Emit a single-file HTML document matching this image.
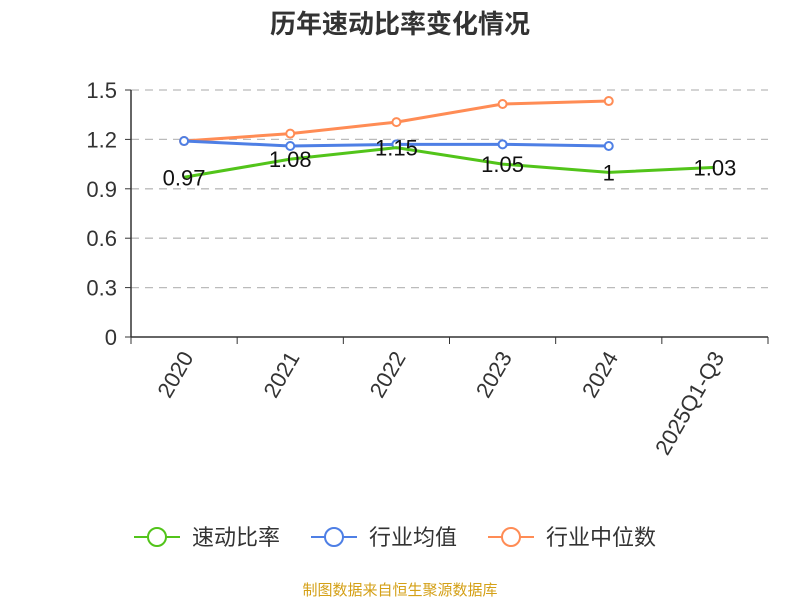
<!DOCTYPE html>
<html><head><meta charset="utf-8"><style>
body{margin:0;background:#fff;font-family:"Liberation Sans","Noto Sans CJK SC",sans-serif}
svg text{font-family:"Liberation Sans","Noto Sans CJK SC",sans-serif}
</style></head><body>
<svg id="c" width="800" height="600">
<text x="400" y="33" text-anchor="middle" font-size="26" font-weight="bold" fill="#333">历年速动比率变化情况</text>
<g id="grid"></g><g id="axes"></g><g id="series"></g>
<g>
<g><line x1="134" y1="537" x2="180" y2="537" stroke="#52c41a" stroke-width="2"/><circle cx="157" cy="537" r="9" fill="#fff" stroke="#52c41a" stroke-width="2"/><text x="192" y="545" font-size="22" fill="#333">速动比率</text></g>
<g><line x1="311" y1="537" x2="357" y2="537" stroke="#4e7fe5" stroke-width="2"/><circle cx="334" cy="537" r="9" fill="#fff" stroke="#4e7fe5" stroke-width="2"/><text x="369" y="545" font-size="22" fill="#333">行业均值</text></g>
<g><line x1="488" y1="537" x2="534" y2="537" stroke="#ff8c55" stroke-width="2"/><circle cx="511" cy="537" r="9" fill="#fff" stroke="#ff8c55" stroke-width="2"/><text x="546" y="545" font-size="22" fill="#333">行业中位数</text></g>
</g>
<text x="400" y="595" text-anchor="middle" font-size="15" fill="#d4a017">制图数据来自恒生聚源数据库</text>
</svg>
<script>
const categories=["2020","2021","2022","2023","2024","2025Q1-Q3"];
const quickRatio=[0.97,1.08,1.15,1.05,1.0,1.03];
const quickLabels=["0.97","1.08","1.15","1.05","1","1.03"];
const industryMean=[1.19,1.16,1.17,1.17,1.16];
const industryMedian=[1.19,1.235,1.305,1.415,1.433];
const yTicks=[0,0.3,0.6,0.9,1.2,1.5];
const NS="http://www.w3.org/2000/svg";
const X0=131,X1=768,Y0=337,Y1=90,band=(X1-X0)/categories.length;
const xs=i=>X0+band*(i+0.5);
const ys=v=>Y0-(v/1.5)*(Y0-Y1);
function mk(t,a,p){const e=document.createElementNS(NS,t);for(const k in a)e.setAttribute(k,a[k]);p.appendChild(e);return e;}
const grid=document.getElementById('grid'),axes=document.getElementById('axes'),ser=document.getElementById('series');
yTicks.forEach(v=>{
 if(v>0){const l=mk('line',{x1:X0,x2:X1,y1:ys(v),y2:ys(v),stroke:'#bbb','stroke-width':1.3,'stroke-dasharray':'8,6'},grid);
 
 }
 const t=mk('text',{x:X0-14,y:ys(v)+8,'text-anchor':'end','font-size':'22',fill:'#333'},axes);t.textContent=v===0?'0':v.toFixed(1);
 
 
 mk('line',{x1:X0-6,x2:X0,y1:ys(v),y2:ys(v),stroke:'#333'},axes);
});
mk('line',{x1:X0,x2:X0,y1:Y1,y2:Y0,stroke:'#333','stroke-width':1.5},axes);
mk('line',{x1:X0,x2:X1,y1:Y0,y2:Y0,stroke:'#333','stroke-width':1.5},axes);
for(let i=0;i<=categories.length;i++)mk('line',{x1:X0+band*i,x2:X0+band*i,y1:Y0,y2:Y0+7,stroke:'#333'},axes);
categories.forEach((c,i)=>{
 const t=mk('text',{x:xs(i)+10,y:Y0+20,'text-anchor':'end','font-size':'22',fill:'#333',transform:`rotate(-60 ${xs(i)+10} ${Y0+20})`},axes);t.textContent=c;
 
 
});
function line(data,color,name,dots){
 const g=mk('g',{},ser);
 
 
 mk('polyline',{points:data.map((v,i)=>xs(i)+','+ys(v)).join(' '),fill:'none',stroke:color,'stroke-width':3},g);
 if(dots)data.forEach((v,i)=>{const c=mk('circle',{cx:xs(i),cy:ys(v),r:4,fill:'#fff',stroke:color,'stroke-width':2},g);
 
 });
 return g;
}
line(industryMedian,'#ff8c55','industry-median-line',true);
line(industryMean,'#4e7fe5','industry-mean-line',true);
const g=line(quickRatio,'#52c41a','quick-ratio-line',false);
quickRatio.forEach((v,i)=>{const t=mk('text',{x:xs(i),y:ys(v)+8,'text-anchor':'middle','font-size':'22',fill:'#111'},g);t.textContent=quickLabels[i];
 
 });
</script>
</body></html>
